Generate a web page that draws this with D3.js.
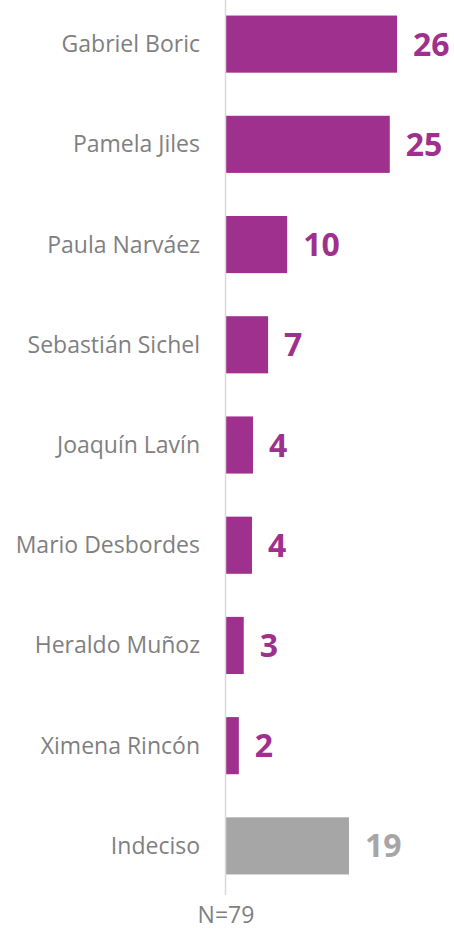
<!DOCTYPE html>
<html>
<head>
<meta charset="utf-8">
<script src="https://cdn.jsdelivr.net/npm/d3@7"></script>
<style>
  body { margin: 0; background: #fff; }
  svg { display: block; }
</style>
</head>
<body>
<svg id="chart" width="454" height="929"></svg>
<script>
// candidates, top to bottom
var candidates = ["Gabriel Boric", "Pamela Jiles", "Paula Narváez", "Sebastián Sichel",
  "Joaquín Lavín", "Mario Desbordes", "Heraldo Muñoz", "Ximena Rincón", "Indeciso"];
// bar lengths (percent)
var values = [26, 24.9, 9.3, 6.4, 4.1, 3.95, 2.7, 1.95, 18.7];
// the labels printed next to the bars
var valueLabels = ["26", "25", "10", "7", "4", "4", "3", "2", "19"];
var sampleNote = "N=79";

var svg = d3.select("#chart");

var axisX = 226;
var x = d3.scaleLinear()
  .domain([0, 26])
  .range([axisX, 397]);

var y = d3.scaleBand()
  .domain(candidates)
  .range([-6, 896])
  .paddingInner(0.43)
  .paddingOuter(0.215);

function barColor(name) {
  return name == "Indeciso" ? "#a6a6a6" : "#a0308e";
}

// bars
svg.append("g")
  .selectAll("rect")
  .data(candidates)
  .enter()
  .append("rect")
    .attr("x", x(0))
    .attr("y", function(d){ return y(d); })
    .attr("width", function(d, i){ return x(values[i]) - x(0); })
    .attr("height", y.bandwidth())
    .attr("fill", function(d){ return barColor(d); });

// vertical axis line
svg.append("line")
  .attr("x1", axisX - 0.5).attr("x2", axisX - 0.5)
  .attr("y1", 0).attr("y2", 895)
  .attr("stroke", "#d9d9d9")
  .attr("stroke-width", 1.5);

// category names
svg.append("g")
  .selectAll("text")
  .data(candidates)
  .enter()
  .append("text")
    .attr("x", 200)
    .attr("y", function(d){ return y(d) + y.bandwidth() / 2; })
    .attr("dy", "0.35em")
    .attr("text-anchor", "end")
    .style("font-family", "'Open Sans', sans-serif")
    .style("font-size", "23px")
    .attr("fill", "#7f7f7f")
    .text(function(d){ return d; });

// value labels
svg.append("g")
  .selectAll("text")
  .data(candidates)
  .enter()
  .append("text")
    .attr("x", function(d, i){ return x(values[i]) + 16; })
    .attr("y", function(d){ return y(d) + y.bandwidth() / 2; })
    .attr("dy", "0.36em")
    .style("font-family", "'Open Sans', sans-serif")
    .style("font-size", "32px")
    .style("font-weight", "bold")
    .attr("fill", function(d){ return barColor(d); })
    .text(function(d, i){ return valueLabels[i]; });

// sample size
svg.append("text")
  .attr("x", axisX)
  .attr("y", 923)
  .attr("text-anchor", "middle")
  .style("font-family", "'Open Sans', sans-serif")
  .style("font-size", "23px")
  .attr("fill", "#7f7f7f")
  .text(sampleNote);
</script>
</body>
</html>
